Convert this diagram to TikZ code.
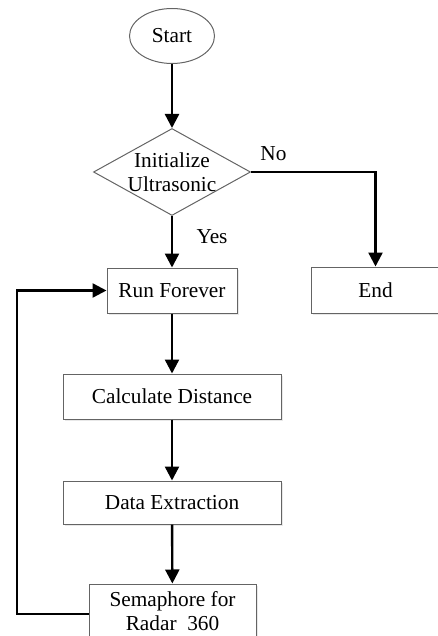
\documentclass[tikz,border=0pt]{standalone}
\usepackage{fontspec}
\setmainfont{Liberation Serif}
\usepackage{tikz}
\usetikzlibrary{shapes.geometric,arrows.meta,shadows}
\definecolor{boxline}{RGB}{100,100,100}

\begin{document}
\begin{tikzpicture}[x=1pt,y=1pt]
\tikzstyle{every node}+=[font=\fontsize{21.3}{24}\selectfont]
\tikzstyle{proc}=[draw=boxline, line width=1pt, fill=white, rectangle, inner sep=0pt,
  drop shadow={opacity=0.18, shadow xshift=1.5pt, shadow yshift=-1.5pt}]
\tikzstyle{flow}=[black, line width=2.4pt, -{Triangle[length=14pt,width=14pt]}]
\useasboundingbox (0,0) rectangle (438,-636);
\node [draw=boxline, line width=1pt, ellipse, minimum width=85pt, minimum height=55pt, inner sep=0pt] (start) at (172,-36) {Start};
\node [draw=boxline, line width=1pt, diamond, minimum width=157pt, minimum height=87pt, inner sep=0pt] (init) at (172,-172) {};
\node [align=center, inner sep=0pt] (inittext) at (172,-172) {Initialize\\Ultrasonic};
\node [proc, minimum width=130pt, minimum height=45pt] (run) at (172,-290.5) {Run Forever};
\node [proc, minimum width=129pt, minimum height=46pt] (endb) at (375.5,-290) {End};
\node [proc, minimum width=218pt, minimum height=45pt] (calc) at (172,-396.5) {Calculate Distance};
\node [proc, minimum width=218pt, minimum height=43pt] (data) at (172,-502.5) {Data Extraction};
\node [proc, minimum width=167pt, minimum height=60pt] (sema) at (172.5,-614) {};
\node [align=center, inner sep=0pt] (sematext) at (172.5,-611) {Semaphore for\\Radar~ 360};
\coordinate (loop) at (17,-450);
\draw [flow] (start) -- (init);
\draw [flow] (init) -- node [right=20pt, pos=0.4] {Yes} (run);
\draw [flow] (init.east) -| node [above=7pt, pos=0.09] {No} (endb.north);
\draw [flow] (run) -- (calc);
\draw [flow] (calc) -- (data);
\draw [flow] (data) -- (sema);
\draw [flow] (sema.west) -| (loop) |- (run.west);
\end{tikzpicture}
\end{document}
